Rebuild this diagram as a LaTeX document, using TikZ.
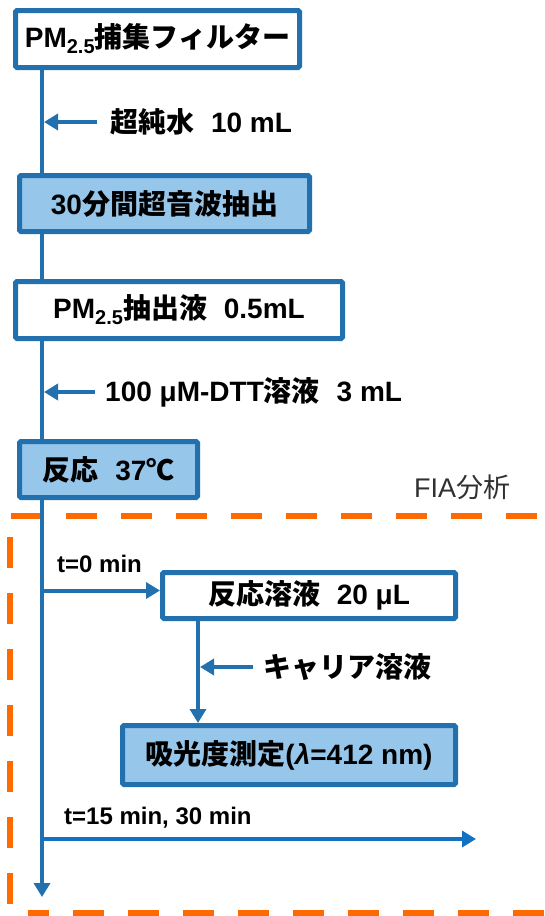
\documentclass[tikz,border=0pt]{standalone}
\usepackage{fontspec}
\setmainfont{Liberation Sans}
\newfontfamily\jpf{Noto Sans CJK JP}
\newcommand{\J}[1]{{\jpf #1}}
\newcommand{\subtf}[1]{\raisebox{-6pt}{\fontsize{20}{22}\selectfont #1}}
\usetikzlibrary{arrows.meta}
\pgfdeclarelayer{bg}
\pgfsetlayers{bg,main}
\definecolor{myblue}{HTML}{2270AE}
\definecolor{lightblue}{HTML}{97C6EB}
\definecolor{arrblue}{HTML}{1271C0}
\definecolor{fiaorange}{HTML}{FF6A00}
\definecolor{fiagray}{HTML}{303030}
\begin{document}
\begin{tikzpicture}[x=1pt,y=-1pt,
  box/.style={draw=myblue, line width=5pt, rounded corners=1.5pt, inner sep=0pt,
    font=\bfseries\fontsize{28}{32}\selectfont},
  whitebox/.style={box, fill=white},
  bluebox/.style={box, fill=lightblue},
  lbl/.style={inner sep=0pt, anchor=west, font=\bfseries\fontsize{28}{32}\selectfont},
  tlbl/.style={inner sep=0pt, anchor=west, font=\bfseries\fontsize{24}{28}\selectfont},
  flow/.style={draw=myblue, line width=4pt, -{Triangle[length=14pt,width=16pt]}},
  flowb/.style={draw=arrblue, line width=4pt, -{Triangle[length=14pt,width=16pt]}},
  orangedash/.style={draw=fiaorange, line width=6pt, dash pattern=on 31pt off 24pt}
]
\useasboundingbox (0,0) rectangle (544,916);

% boxes
\node[whitebox, minimum width=284pt, minimum height=57pt] (b1) at (157.5,39)
  {PM\subtf{2.5}\J{捕集フィルター}};
\node[bluebox, minimum width=290pt, minimum height=56pt] (b2) at (164.5,203.5)
  {30\J{分間超音波抽出}};
\node[whitebox, minimum width=327pt, minimum height=57pt] (b3) at (179,310)
  {PM\subtf{2.5}\J{抽出液}\hspace{0.6em}0.5mL};
\node[bluebox, minimum width=178pt, minimum height=56pt] (b4) at (108.5,469.5)
  {\J{反応}\hspace{0.6em}37\J{℃}};
\node[whitebox, minimum width=293pt, minimum height=46pt] (b5) at (309,595.5)
  {\J{反応溶液}\hspace{0.6em}20 μL};
\node[bluebox, minimum width=333pt, minimum height=59pt] (b6) at (289,755)
  {\J{吸光度測定}(\textit{λ}=412 nm)};

% labels
\node[lbl] (l1) at (110,122) {\J{超純水}\hspace{0.6em}10 mL};
\node[lbl] (l2) at (105,392) {100 μM-DTT\J{溶液}\hspace{0.6em}3 mL};
\node[lbl] (l3) at (263,667) {\J{キャリア溶液}};
\node[tlbl] (t0) at (57,564) {t=0 min};
\node[tlbl] (t1) at (64,818) {t=15 min, 30 min};
\node[inner sep=0pt, anchor=west, text=fiagray, font=\fontsize{27}{32}\selectfont] (fia) at (414,487) {FIA\J{分析}};

% coordinates
\coordinate (mx) at (42,0);
\coordinate (mend) at (42,897);
\coordinate (cx) at (198,0);
\coordinate (t1end) at (476,839);

\begin{pgfonlayer}{bg}
  \begin{scope}
    \clip (0,0) rectangle (544,916);
    \draw[orangedash] (11,516) -- (560,516);
    \draw[orangedash, dash pattern=on 31pt off 25pt] (10,537) -- (10,930);
    \draw[orangedash, dash phase=10pt] (28,913) -- (560,913);
  \end{scope}
  \draw[flow] (b1.south -| mx) -- (mend);
\end{pgfonlayer}

% side arrows
\draw[flow, shorten >=2pt] ([xshift=-13pt]l1.west) -- (l1.west -| mx);
\draw[flow, shorten >=2pt] ([xshift=-10pt]l2.west) -- (l2.west -| mx);
\draw[flow, shorten >=2pt] ([xshift=-10pt]l3.west) -- (l3.west -| cx);

% flow arrows
\draw[flow] ([yshift=5pt]b5.west -| mx) -- ([yshift=5pt]b5.west);
\draw[flow] (b5.south -| cx) -- (b6.north -| cx);
\draw[flowb] (mx |- t1end) -- (t1end);
\end{tikzpicture}
\end{document}
